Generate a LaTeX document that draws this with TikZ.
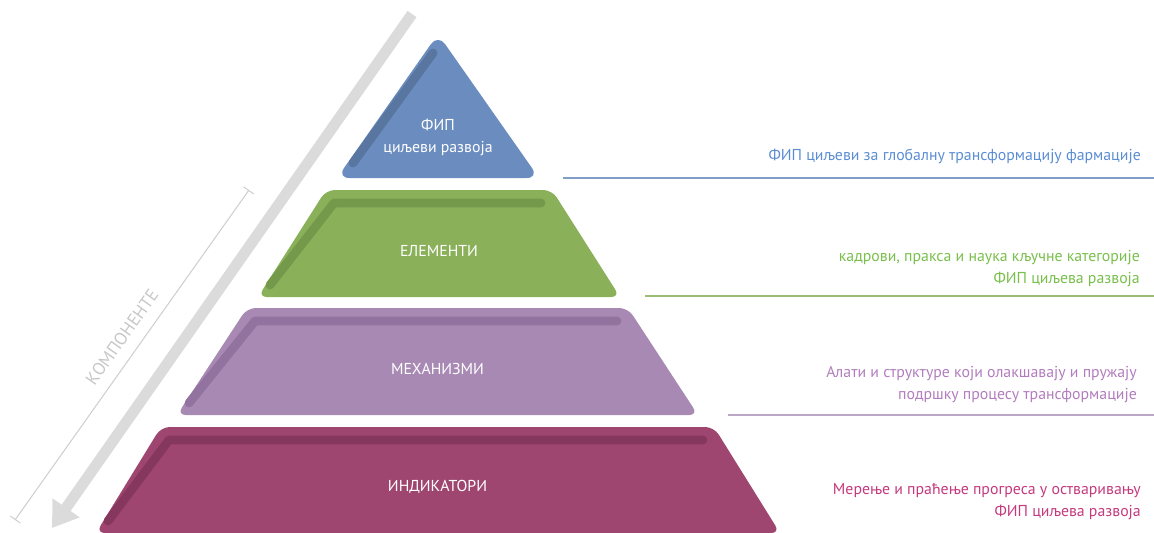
\documentclass[tikz,border=0pt]{standalone}
\usepackage{fontspec}
\setmainfont{PT Sans}
\usetikzlibrary{
	arrows.meta,
	calc,
}
\definecolor{goalblue}{HTML}{6B8CBE}
\definecolor{goalbluedark}{HTML}{58769F}
\definecolor{goalbluetext}{HTML}{5B8DD3}
\definecolor{elemgreen}{HTML}{8BB05A}
\definecolor{elemgreendark}{HTML}{74994A}
\definecolor{elemgreentext}{HTML}{79BF4C}
\definecolor{mechpurple}{HTML}{A789B3}
\definecolor{mechpurpledark}{HTML}{92739F}
\definecolor{mechpurpletext}{HTML}{B27DBE}
\definecolor{indmagenta}{HTML}{9E466F}
\definecolor{indmagentadark}{HTML}{85375E}
\definecolor{indmagentatext}{HTML}{C43A7E}
\tikzset{
	tierlabel/.style={color=white, font=\fontsize{9}{12.5}\selectfont, align=center},
	sidelabel/.style={anchor=east, font=\fontsize{9}{12.5}\selectfont, align=right},
	stripe/.style={line width=5pt, line cap=round, line join=round},
}

\begin{document}
\begin{tikzpicture}[x=0.02cm, y=-0.02cm]
	\useasboundingbox (0,0) rectangle (1154,532);

	% 左侧箭头
	\coordinate (arrowtop) at (412,14);
	\coordinate (arrowtip) at (52,528);
	\draw[line width=6.2pt, color=black!14, -{Triangle[length=14pt, width=18pt]}] (arrowtop) -- (arrowtip);
	\coordinate (bartop) at (249,190);
	\coordinate (barbottom) at (15,520);
	\draw[line width=0.6pt, color=black!19, {Bar[width=7pt]}-{Bar[width=7pt]}] (bartop) -- (barbottom);
	\node[color=black!22, font=\fontsize{10}{12}\selectfont, rotate=54.7] (comp) at (122,337) {КОМПОНЕНТЕ};

	% 顶部三角形
	\draw[fill=goalblue, draw=none, rounded corners=7pt] (438,34) -- (539,178) -- (337,178) -- cycle;
	\draw[stripe, goalbluedark] (433,53) -- (353,163);
	\node[tierlabel] (goal) at (438,137) {ФИП\\циљеви развоја};

	% 三层梯形
	\foreach \tier/\col/\t/\b/\tl/\tr/\bl/\br/\lbl in {
			elem/elemgreen/190/297/326/552/258/620/ЕЛЕМЕНТИ,
			mech/mechpurple/308/415/247/628/177/698/МЕХАНИЗМИ,
			ind/indmagenta/427/533/161/714/96/780/ИНДИКАТОРИ} {
			\draw[fill=\col, draw=none, rounded corners=5pt] (\tl,\t) -- (\tr,\t) -- (\br,\b) -- (\bl,\b) -- cycle;
			\draw[stripe, \col dark] (\bl+12,\b-12) -- (\tl+8,\t+13) -- (\tr-11,\t+13);
			\node[tierlabel] (tier-\tier) at ({(\tl+\tr)/2},{(\t+\b)/2+7}) {\lbl};
		}

	% 右侧说明
	\node[sidelabel, color=goalbluetext] (goaltxt) at (1147,156) {ФИП циљеви за глобалну трансформацију фармације};
	\coordinate (goalL) at (563,178);
	\coordinate (goalR) at (1154,178);
	\draw[goalblue!85!white, line width=1.2pt] (goalL) -- (goalR);

	\node[sidelabel, color=elemgreentext] (elemtxt) at (1146,269) {кадрови, пракса и наука кључне категорије\\ФИП циљева развоја};
	\coordinate (elemL) at (645,296);
	\coordinate (elemR) at (1154,296);
	\draw[elemgreen!85!white, line width=1.2pt] (elemL) -- (elemR);

	\node[sidelabel, color=mechpurpletext] (mechtxt) at (1143,385) {Алати и структуре који олакшавају и пружају\\подршку процесу трансформације};
	\coordinate (mechL) at (728,415);
	\coordinate (mechR) at (1154,415);
	\draw[mechpurple!75!white, line width=1.2pt] (mechL) -- (mechR);

	\node[sidelabel, color=indmagentatext] (indtxt) at (1147,502) {Мерење и праћење прогреса у остваривању\\ФИП циљева развоја};

\end{tikzpicture}
\end{document}
